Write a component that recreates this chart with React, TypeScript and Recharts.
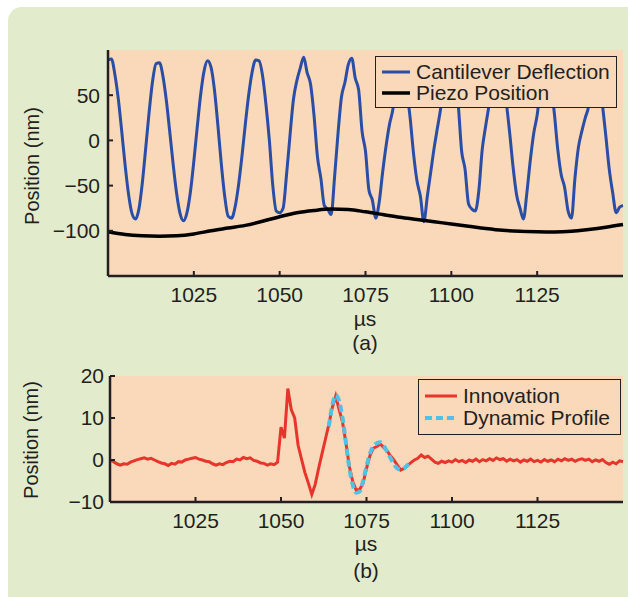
import { LineChart, Line, XAxis, YAxis, CartesianGrid, Legend } from 'recharts';

// time axis, µs
const T0 = 1000;
const timeTicks = [1025, 1050, 1075, 1100, 1125];

// (a) cantilever deflection, one sample per µs from 1000 to 1150 (nm)
const deflection = [
  89, 90, 73, 46, 10, -28, -60, -81, -87, -76,
  -47, -8, 32, 66, 85, 86, 71, 44, 9, -27,
  -59, -81, -89, -80, -57, -23, 15, 51, 77, 88,
  81, 56, 17, -26, -62, -84, -86, -74, -50, -18,
  18, 51, 76, 89, 88, 72, 40, 0, -50, -78,
  -80, -75, -38, 5, 45, 66, 80, 92, 75, 62,
  28, -18, -42, -72, -76, -82, -40, 8, 48, 64,
  84, 91, 69, 56, 10, -12, -55, -66, -86, -68,
  -35, -6, 18, 35, 68, 88, 80, 55, 25, -15,
  -45, -62, -90, -62, -35, -8, 15, 38, 70, 88,
  88, 70, 40, -12, -32, -70, -76, -78, -56, -10,
  16, 40, 72, 90, 88, 68, 42, 8, -30, -60,
  -75, -87, -58, -22, 8, 28, 60, 86, 88, 62,
  30, -10, -38, -52, -78, -86, -42, -8, 10, 25,
  38, 70, 88, 75, 40, 5, -32, -58, -80, -74,
  -72,
];

// (a) piezo position, one sample per 5 µs (nm)
const piezoStep = 5;
const piezo = [
  -101, -104, -105.5, -106, -105.5, -103.5, -100, -97, -94, -89.5,
  -84.5, -80, -77.5, -76, -76.5, -79, -82, -85, -87.5, -90,
  -92.5, -95, -97.5, -99.5, -100.5, -101, -101.2, -100.5, -98.5, -96,
  -93,
];

// (b) innovation, one sample per µs from 1000 to 1150 (nm)
const innovation = [
  0, -0.4, -0.9, -1.2, -0.9, -1.0, -0.5, -0.2, 0.1, 0.3,
  0.5, 0.2, 0.4, 0.0, -0.4, -0.7, -0.9, -1.3, -0.8, -1.0,
  -0.4, -0.5, 0.0, 0.2, 0.4, 0.6, 0.2, 0.0, -0.3, -0.4,
  -0.9, -1.2, -0.9, -1.1, -0.6, -0.3, -0.4, 0.2, 0.0, 0.6,
  0.3, 0.5, -0.1, -0.3, -0.7, -0.8, -1.2, -0.9, -1.1, -0.5,
  7.8, 5.2, 17.0, 12.0, 10.0, 3.5, 0.2, -3.0, -5.5, -8.2,
  -5.8, -2.0, 1.5, 5.0, 8.5, 12.5, 15.2, 12.0, 9.0, 4.0,
  -1.6, -5.2, -7.2, -7.0, -5.5, -2.0, 1.0, 2.8, 3.2, 3.8,
  3.0, 2.2, 1.0, 0.0, -1.2, -2.4, -2.0, -1.4, -0.6, 0.0,
  0.4, 1.2, 0.6, 0.9, 0.2, -0.5, -0.8, -0.3, -0.6, -0.2,
  -0.5, 0.1, -0.4, -0.1, -0.6, 0.0, -0.3, 0.2, -0.4, 0.1,
  -0.2, 0.3, -0.1, 0.5, 0.1, 0.3, -0.3, 0.2, -0.2, 0.1,
  -0.5, 0.0, -0.3, 0.2, -0.4, -0.1, -0.5, 0.1, -0.3, 0.0,
  -0.4, 0.2, -0.2, 0.3, -0.1, 0.2, -0.3, 0.1, 0.3, -0.1,
  0.2, -0.4, 0.0, -0.3, 0.1, -0.6, -1.0, -0.5, -0.9, -0.2,
  -0.4,
];

// (b) dynamic profile, one sample per µs from 1064
const profileStart = 1064;
const profile = [
  8, 13, 15.5, 14, 10, 4, -2, -6, -7.8, -7.5,
  -5, -1.5, 1.5, 3.3, 4, 4.2, 3.5, 2, 0.5, -1,
  -2, -2.3, -2, -1.2, -0.5,
];

const topTicks = [50, 0, -50, -100];
const bottomTicks = [20, 10, 0, -10];

const GREEN = '#E2ECCD';
const PEACH = '#FAD8BA';
const INK = '#231F20';
const BLUE = '#2A4EA6';
const RED = '#E8352B';
const CYAN = '#4EC3E6';
const FONT = '"Liberation Sans", Arial, Helvetica, sans-serif';

const toPoints = (values: number[], start: number, step: number) =>
  values.map((v, i) => ({ t: start + i * step, v }));

const fmt = (v: number) => (v < 0 ? `\u2212${Math.abs(v)}` : `${v}`);

const XTick = ({ x, y, payload }: any) => (
  <g>
    <line x1={x} x2={x} y1={y} y2={y - 5} stroke={INK} strokeWidth={2} />
    <text x={x} y={y + 19} dy="0.35em" textAnchor="middle" fontSize={21} fill={INK} fontFamily={FONT}>
      {payload.value}
    </text>
  </g>
);

const makeYTick = (gap: number) => ({ x, y, payload }: any) => (
  <g>
    <line x1={x} x2={x + 5} y1={y} y2={y} stroke={INK} strokeWidth={2} />
    <text x={x - gap} y={y} dy="0.35em" textAnchor="end" fontSize={21} fill={INK} fontFamily={FONT}>
      {fmt(payload.value)}
    </text>
  </g>
);

type Item = { label: string; color: string; width: number; dash?: string };

const legendBox = (items: Item[], pad: number, sample: number, rowH: number) => () => (
  <div
    style={{
      border: `1.5px solid ${INK}`,
      background: PEACH,
      padding: `${pad}px 4px ${pad}px 6px`,
      fontFamily: FONT,
      fontSize: 21,
      color: INK,
      boxSizing: 'border-box',
    }}
  >
    {items.map((it) => (
      <div key={it.label} style={{ display: 'flex', alignItems: 'center', height: rowH, whiteSpace: 'nowrap' }}>
        <svg width={sample + 4} height={10} style={{ flex: 'none' }}>
          <line x1={0} x2={sample} y1={5} y2={5} stroke={it.color} strokeWidth={it.width} strokeDasharray={it.dash} />
        </svg>
        <span style={{ marginLeft: 2 }}>{it.label}</span>
      </div>
    ))}
  </div>
);

const textStyle = (left: number, top: number): React.CSSProperties => ({
  position: 'absolute',
  left,
  top,
  transform: 'translate(-50%, -50%)',
  fontFamily: FONT,
  fontSize: 21,
  lineHeight: 1,
  color: INK,
  whiteSpace: 'nowrap',
});

const yLabelStyle = (left: number, top: number): React.CSSProperties => ({
  ...textStyle(left, top),
  fontSize: 20,
  transform: 'translate(-50%, -50%) rotate(-90deg)',
});

export default function App() {
  const deflectionData = toPoints(deflection, T0, 1);
  const piezoData = toPoints(piezo, T0, piezoStep);
  const innovationData = toPoints(innovation, T0, 1);
  const profileData = toPoints(profile, profileStart, 1);

  return (
    <div style={{ position: 'absolute', left: 0, top: 0, width: 628, height: 597, overflow: 'hidden', background: '#fff' }}>
      <div
        style={{
          position: 'absolute',
          left: 8,
          top: 7,
          width: 640,
          height: 610,
          background: GREEN,
          borderRadius: 14,
        }}
      />

      <div style={{ position: 'absolute', left: 0, top: 0 }}>
        <LineChart width={628} height={310} margin={{ top: 50, right: 5, left: 48, bottom: 4 }}>
          <CartesianGrid fill={PEACH} stroke="none" horizontal={false} vertical={false} />
          <XAxis
            type="number"
            dataKey="t"
            domain={[1000, 1150]}
            ticks={timeTicks}
            height={30}
            tickSize={0}
            tickMargin={0}
            tickLine={false}
            axisLine={{ stroke: INK, strokeWidth: 2.5 }}
            tick={XTick}
          />
          <YAxis
            type="number"
            domain={[-150, 100]}
            ticks={topTicks}
            width={60}
            tickSize={0}
            tickMargin={0}
            tickLine={false}
            axisLine={{ stroke: INK, strokeWidth: 2.5 }}
            tick={makeYTick(8)}
          />
          <Line data={deflectionData} dataKey="v" type="monotone" stroke={BLUE} strokeWidth={3} dot={false} activeDot={false} isAnimationActive={false} />
          <Line data={piezoData} dataKey="v" type="monotone" stroke="#000" strokeWidth={3.5} dot={false} activeDot={false} isAnimationActive={false} />
          <Legend
            layout="vertical"
            align="center"
            verticalAlign="middle"
            wrapperStyle={{ left: 375, top: 56, width: 242, height: 50 }}
            content={legendBox(
              [
                { label: 'Cantilever Deflection', color: BLUE, width: 3 },
                { label: 'Piezo Position', color: '#000', width: 3.5 },
              ],
              4,
              28,
              21,
            )}
          />
        </LineChart>
      </div>

      <div style={{ position: 'absolute', left: 0, top: 326 }}>
        <LineChart width={628} height={210} margin={{ top: 50, right: 5, left: 50, bottom: 4 }}>
          <CartesianGrid fill={PEACH} stroke="none" horizontal={false} vertical={false} />
          <XAxis
            type="number"
            dataKey="t"
            domain={[1000, 1150]}
            ticks={timeTicks}
            height={30}
            tickSize={0}
            tickMargin={0}
            tickLine={false}
            axisLine={{ stroke: INK, strokeWidth: 2.5 }}
            tick={XTick}
          />
          <YAxis
            type="number"
            domain={[-10, 20]}
            ticks={bottomTicks}
            width={60}
            tickSize={0}
            tickMargin={0}
            tickLine={false}
            axisLine={{ stroke: INK, strokeWidth: 2.5 }}
            tick={makeYTick(6)}
          />
          <Line data={innovationData} dataKey="v" type="linear" stroke={RED} strokeWidth={3} dot={false} activeDot={false} isAnimationActive={false} />
          <Line data={profileData} dataKey="v" type="monotone" stroke={CYAN} strokeWidth={4} strokeDasharray="7 4" dot={false} activeDot={false} isAnimationActive={false} />
          <Legend
            layout="vertical"
            align="center"
            verticalAlign="middle"
            wrapperStyle={{ left: 418, top: 53, width: 203, height: 55 }}
            content={legendBox(
              [
                { label: 'Innovation', color: RED, width: 3 },
                { label: 'Dynamic Profile', color: CYAN, width: 4, dash: '7 4' },
              ],
              5,
              32,
              22,
            )}
          />
        </LineChart>
      </div>

      <div style={yLabelStyle(32, 166)}>Position (nm)</div>
      <div style={textStyle(365, 318)}>µs</div>
      <div style={textStyle(365, 342)}>(a)</div>

      <div style={yLabelStyle(31, 440)}>Position (nm)</div>
      <div style={textStyle(366, 543)}>µs</div>
      <div style={textStyle(366, 570)}>(b)</div>
    </div>
  );
}
